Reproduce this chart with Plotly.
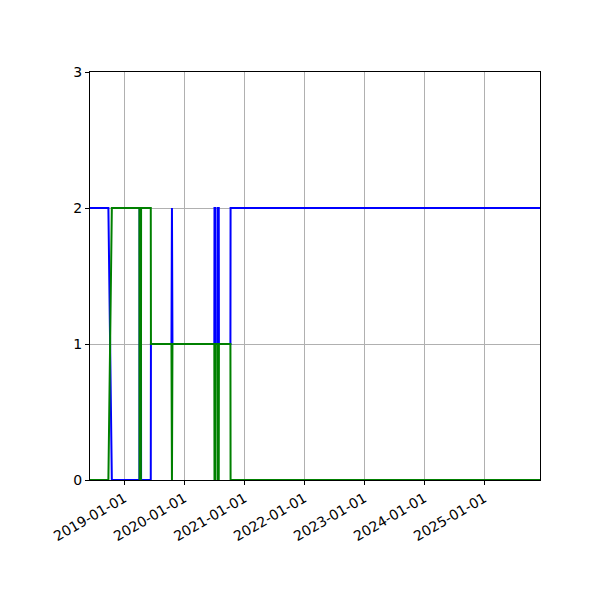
import plotly.graph_objects as go

# state series (blue + green always sum to 2)
dates = [
    "2018-06-06", "2018-09-26", "2018-10-17",
    "2019-04-03", "2019-04-04", "2019-04-12", "2019-04-13",
    "2019-06-11", "2019-06-12",
    "2019-10-15", "2019-10-18", "2019-10-21",
    "2020-07-02", "2020-07-03", "2020-07-09", "2020-07-10",
    "2020-07-23", "2020-07-24", "2020-07-29", "2020-07-30",
    "2020-10-08", "2020-10-09",
    "2025-12-06",
]
blue_vals = [2, 2, 0, 0, 2, 2, 0, 0, 1, 1, 2, 1, 1, 2, 2, 1, 1, 2, 2, 1, 1, 2, 2]
green_vals = [0, 0, 2, 2, 0, 0, 2, 2, 1, 1, 0, 1, 1, 0, 0, 1, 1, 0, 0, 1, 1, 0, 0]

tick_dates = ["2019-01-01", "2020-01-01", "2021-01-01", "2022-01-01",
              "2023-01-01", "2024-01-01", "2025-01-01"]

fig = go.Figure()
fig.add_trace(go.Scatter(x=dates, y=blue_vals, mode="lines",
                         line=dict(color="blue", width=2)))
fig.add_trace(go.Scatter(x=dates, y=green_vals, mode="lines",
                         line=dict(color="green", width=2)))

axis_style = dict(
    showline=True, linecolor="black", linewidth=1, mirror=True,
    ticks="outside", ticklen=4, tickcolor="black",
    showgrid=True, gridcolor="#b0b0b0", gridwidth=1,
    zeroline=False, tickfont=dict(size=14, color="black"),
)

fig.update_xaxes(
    type="date", range=[dates[0], dates[-1]],
    tickvals=tick_dates, ticktext=tick_dates, tickangle=-30,
    **axis_style,
)
fig.update_yaxes(range=[0, 3], tickvals=[0, 1, 2, 3], **axis_style)

# page body adds an 8px offset, so margins are trimmed to match
fig.update_layout(
    width=600, height=600,
    margin=dict(l=82, r=68, t=64, b=128),
    paper_bgcolor="white", plot_bgcolor="white",
    showlegend=False,
    font=dict(family="DejaVu Sans", color="black"),
)

fig.write_html("out.html")
